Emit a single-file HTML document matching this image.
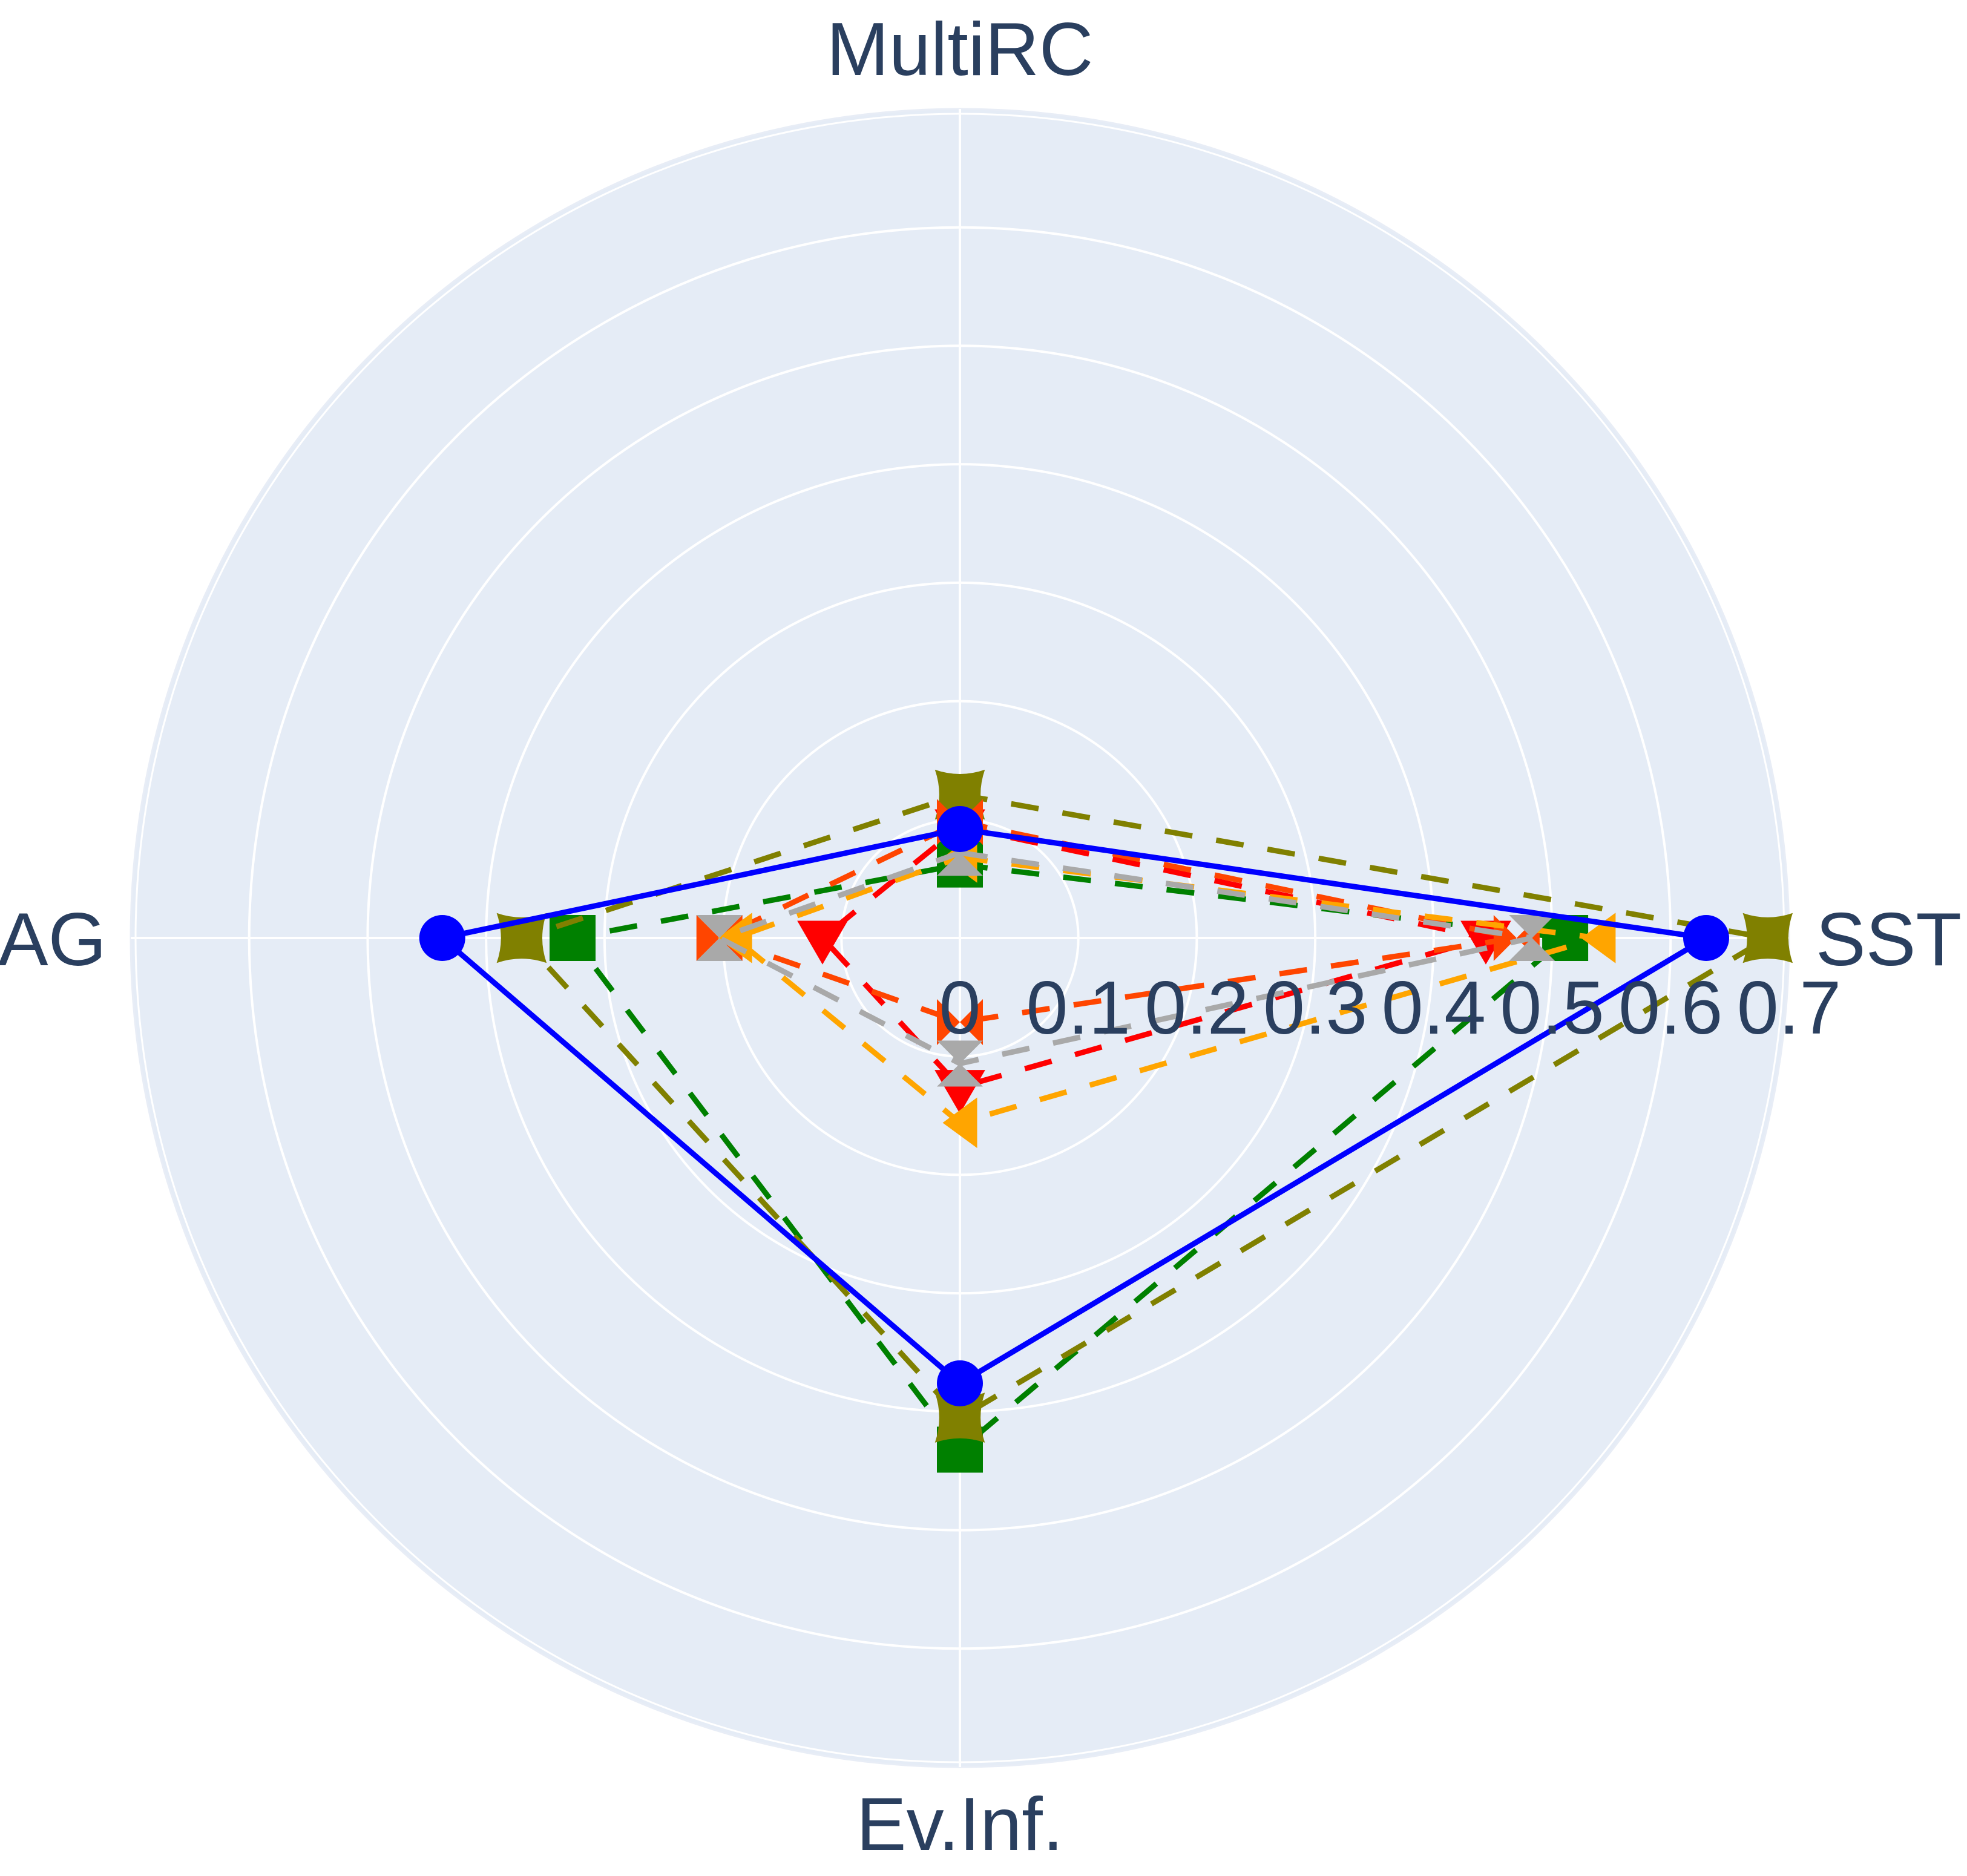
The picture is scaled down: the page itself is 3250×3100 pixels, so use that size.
<!DOCTYPE html>
<html><head><meta charset="utf-8"><style>
html,body{margin:0;padding:0;background:#fff;}
svg{display:block;}
text{font-family:"Liberation Sans",sans-serif;fill:#2a3f5f;}
</style></head><body>
<svg id="chart" width="3250" height="3100" viewBox="0 0 3250 3100" xmlns="http://www.w3.org/2000/svg">
<g id="bg"></g><g id="traces"></g><g id="labels"></g>
</svg>
<script>
const categories = ["MultiRC","SST","Ev.Inf.","AG"];
const tickValues = [0,0.1,0.2,0.3,0.4,0.5,0.6];
const tickLabels = ["0","0.1","0.2","0.3","0.4","0.5","0.6","0.7"];
const rMax = 0.7;
const seriesNames = ["green","olive","red","orangered","orange","gray","blue"];
const greenVals = [0.062,0.511,0.432,0.327];
const oliveVals = [0.121,0.682,0.405,0.370];
const redVals = [0.094,0.444,0.126,0.116];
const orangeredVals = [0.098,0.470,0.071,0.203];
const orangeVals = [0.068,0.539,0.156,0.190];
const grayVals = [0.072,0.483,0.106,0.203];
const blueVals = [0.092,0.630,0.376,0.437];

const NS="http://www.w3.org/2000/svg";
const cx=1586, cy=1550, R=1370;
function rad(v){return v/rMax*R;}
function ang(i){return -Math.PI/2 + i*Math.PI/2;}
function pt(v,i){const r=rad(v),a=ang(i);return [cx+r*Math.cos(a), cy+r*Math.sin(a)];}
function mk(tag,attrs,parent){const e=document.createElementNS(NS,tag);for(const k in attrs)e.setAttribute(k,attrs[k]);parent.appendChild(e);return e;}

const bg=document.getElementById('bg');
const disk=mk('circle',{cx:cx,cy:cy,r:R,fill:'#E5ECF6',stroke:'#e8edf6','stroke-width':3},bg);


for(let k=1;k<tickValues.length;k++){
  const c=mk('circle',{cx:cx,cy:cy,r:rad(tickValues[k]),fill:'none',stroke:'#fff','stroke-width':4},bg);
  
  
}
const outer=mk('circle',{cx:cx,cy:cy,r:R-8,fill:'none',stroke:'#fff','stroke-width':3},bg);


for(let i=0;i<categories.length;i++){
  const p=pt(rMax,i);
  const l=mk('line',{x1:cx,y1:cy,x2:p[0],y2:p[1],stroke:'#fff','stroke-width':4},bg);
  
  
}

function markerPath(type,x,y,s){
  const h=s/2;
  switch(type){
    case 'circle': return `M${x+h},${y}A${h},${h} 0 1,1 ${x-h},${y}A${h},${h} 0 1,1 ${x+h},${y}Z`;
    case 'square': return `M${x-h},${y-h}H${x+h}V${y+h}H${x-h}Z`;
    case 'star4': {const a=s*0.55,b=s*0.36;return `M${x-a},${y-a}Q${x},${y-b} ${x+a},${y-a}Q${x+b},${y} ${x+a},${y+a}Q${x},${y+b} ${x-a},${y+a}Q${x-b},${y} ${x-a},${y-a}Z`;}
    case 'tri-down': return `M${x-h*1.1},${y-h*0.75}H${x+h*1.1}L${x},${y+h*1.15}Z`;
    case 'tri-left': return `M${x-h*0.75},${y}L${x+h*0.75},${y-h*1.1}V${y+h*1.1}Z`;
    case 'bowtie': return `M${x-h},${y-h}L${x},${y}L${x-h},${y+h}Z M${x+h},${y-h}L${x},${y}L${x+h},${y+h}Z`;
    case 'hourglass': return `M${x-h},${y-h}H${x+h}L${x},${y}Z M${x-h},${y+h}H${x+h}L${x},${y}Z`;
  }
}
const traces=[
  {name:'green',vals:greenVals,color:'#008000',marker:'square',dash:'46,40'},
  {name:'olive',vals:oliveVals,color:'#808000',marker:'star4',dash:'46,40'},
  {name:'red',vals:redVals,color:'#FF0000',marker:'tri-down',dash:'46,40'},
  {name:'orangered',vals:orangeredVals,color:'#FF4500',marker:'bowtie',dash:'46,40'},
  {name:'orange',vals:orangeVals,color:'#FFA500',marker:'tri-left',dash:'46,40'},
  {name:'gray',vals:grayVals,color:'#A9A9A9',marker:'hourglass',dash:'46,40'},
  {name:'blue',vals:blueVals,color:'#0000FF',marker:'circle',dash:null}
];
const tg=document.getElementById('traces');
traces.forEach(t=>{
  const g=mk('g',{},tg);
  
  
  const pts=t.vals.map((v,i)=>pt(v,i));
  const d='M'+pts.map(p=>p[0].toFixed(1)+','+p[1].toFixed(1)).join('L')+'Z';
  const attrs={d:d,fill:'none',stroke:t.color,'stroke-width':9,'stroke-linejoin':'miter'};
  if(t.dash)attrs['stroke-dasharray']=t.dash;
  const line=mk('path',attrs,g);
  
  
  pts.forEach((p,i)=>{
    const m=mk('path',{d:markerPath(t.marker,p[0],p[1],t.marker==='star4'?75:76),fill:t.color},g);
    
    
  });
});

const lg=document.getElementById('labels');
function txt(s,x,y,anchor,name){
  const t=mk('text',{x:x,y:y,'text-anchor':anchor,'font-size':124},lg);
  t.textContent=s;
  
  
}
txt(categories[0],cx,124,'middle','axis-label-multirc');
txt(categories[1],3000,1595,'start','axis-label-sst');
txt(categories[2],cx,3057,'middle','axis-label-evinf');
txt(categories[3],176,1595,'end','axis-label-ag');
for(let k=0;k<tickLabels.length;k++){
  const v=k*0.1;
  txt(tickLabels[k],cx+rad(v),1708,'middle','radial-tick-label');
}
</script>
</body></html>
